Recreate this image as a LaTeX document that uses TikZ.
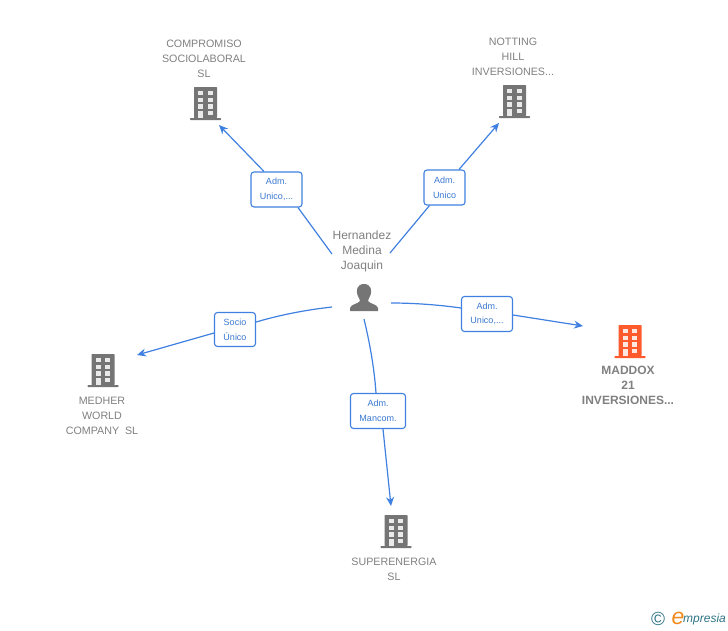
\documentclass[tikz,border=0pt]{standalone}
\usepackage{fontspec}
\setmainfont{Liberation Sans}
\usetikzlibrary{arrows.meta}
\definecolor{linkblue}{HTML}{3F80E0}
\definecolor{labelblue}{HTML}{3A78D0}
\definecolor{txtgray}{HTML}{808080}
\definecolor{bldgray}{HTML}{757575}
\definecolor{bldorange}{HTML}{FF5A2B}
\definecolor{logoteal}{HTML}{2F7486}
\definecolor{logoorange}{HTML}{F08A1D}
\tikzset{
  x=1pt,y=-1pt,
  link/.style={draw=linkblue,line width=1.2pt},
  arrowlink/.style={link,-{Stealth[length=9pt,width=8pt]}},
  tagbox/.style={draw=linkblue,line width=1.1pt,rounded corners=3pt,fill=white,align=center,
    text=labelblue,font=\fontsize{9}{14.6}\selectfont,inner sep=0pt,anchor=center},
  nametext/.style={align=center,text=txtgray,font=\fontsize{10.7}{15}\selectfont,inner sep=0pt,anchor=center},
  pics/building/.style={code={
    \fill[#1,rounded corners=0.6pt] (-11.5,-17) rectangle (11.5,14);
    \fill[#1,rounded corners=0.6pt] (-15.5,14) rectangle (15.5,16);
    \foreach \yy/\hh in {-13.3/4.5,-6.3/4.2,0.3/4.2}{
      \fill[white,opacity=0.85] (-7.2,\yy) rectangle ++(5,\hh);
      \fill[white,opacity=0.85] (2.2,\yy) rectangle ++(5,\hh);
    }
    \fill[white,opacity=0.85] (-7.2,7) rectangle ++(5,7.2);
    \fill[white,opacity=0.85] (2.2,7) rectangle ++(5,4.2);
  }}
}
\begin{document}
\begin{tikzpicture}
\useasboundingbox (0,0) rectangle (728,630);
% names
\node[nametext] (n1) at (204,58.5) {COMPROMISO\\SOCIOLABORAL\\SL};
\node[nametext] (n2) at (513,56.5) {NOTTING\\HILL\\INVERSIONES...};
\node[nametext,font=\fontsize{12}{15}\selectfont] (hub) at (362,251) {Hernandez\\Medina\\Joaquin};
\node[nametext] (n3) at (102,415.5) {MEDHER\\WORLD\\COMPANY\ \ SL};
\node[nametext] (n4) at (394,569) {SUPERENERGIA\\SL};
\node[nametext,font=\fontsize{12}{15}\selectfont\bfseries] (n5) at (628,385.5) {MADDOX\\21\\INVERSIONES...};
% icons
\pic at (205.5,104) {building=bldgray};
\pic at (514.5,102) {building=bldgray};
\pic at (103,371) {building=bldgray};
\pic at (396,532) {building=bldgray};
\pic at (630,342) {building=bldorange};
\fill[bldgray] (364,284) .. controls (356.5,284) and (356,291) .. (357.5,295)
  .. controls (358.5,298) and (360,299) .. (360,301)
  .. controls (358,304) and (351,304) .. (350,308) -- (350,311) -- (378,311) -- (378,308)
  .. controls (377,304) and (370,304) .. (368,301)
  .. controls (368,299) and (369.5,298) .. (370.5,295)
  .. controls (372,291) and (371.5,284) .. (364,284) -- cycle;
% free ends
\coordinate (h1) at (332,254);
\coordinate (h2) at (390,253);
\coordinate (h3) at (332,307);
\coordinate (h4) at (364,319);
\coordinate (h5) at (391,303);
\coordinate (t1) at (219,125);
\coordinate (t2) at (499,123);
\coordinate (t3) at (137,355);
\coordinate (t4) at (391,506);
\coordinate (t5) at (583,326);
% tags
\node[tagbox,minimum width=51pt,minimum height=35pt] (l1) at (276.5,189.5) {Adm.\\Unico,...};
\node[tagbox,minimum width=41pt,minimum height=35pt] (l2) at (444.5,187.5) {Adm.\\Unico};
\node[tagbox,minimum width=41pt,minimum height=34pt] (l3) at (235,329.5) {Socio\\Único};
\node[tagbox,minimum width=55pt,minimum height=35pt] (l4) at (378,411) {Adm.\\Mancom.};
\node[tagbox,minimum width=51pt,minimum height=35pt] (l5) at (487,314) {Adm.\\Unico,...};
% connectors
\draw[link] (h1) -- ([xshift=21.5pt]l1.south);
\draw[arrowlink] ([xshift=-12.5pt]l1.north) -- (t1);
\draw[link] (h2) -- (l2);
\draw[arrowlink] ([xshift=14.5pt]l2.north) -- (t2);
\draw[link] (h3) .. controls (305,310) and (280,315) .. ([yshift=7.5pt]l3.east);
\draw[arrowlink] ([yshift=-3.5pt]l3.west) -- (t3);
\draw[link] (h4) .. controls (369,340) and (374,365) .. ([xshift=-2pt]l4.north);
\draw[arrowlink] ([xshift=5pt]l4.south) -- (t4);
\draw[link] (h5) .. controls (415,303) and (440,305) .. ([yshift=6pt]l5.west);
\draw[arrowlink] ([yshift=-1pt]l5.east) -- (t5);
% logo
\node[inner sep=0pt,text=logoteal,font=\fontsize{19}{19}\selectfont] (copy) at (658,619) {\char"00A9};
\node[inner sep=0pt,text=logoorange,font=\fontsize{23}{23}\selectfont\itshape] (logoe) at (678,618) {e};
\node[inner sep=0pt,text=logoteal,font=\fontsize{12}{12}\selectfont\itshape,anchor=west] (logot) at (683,619) {mpresia};
\end{tikzpicture}
\end{document}
